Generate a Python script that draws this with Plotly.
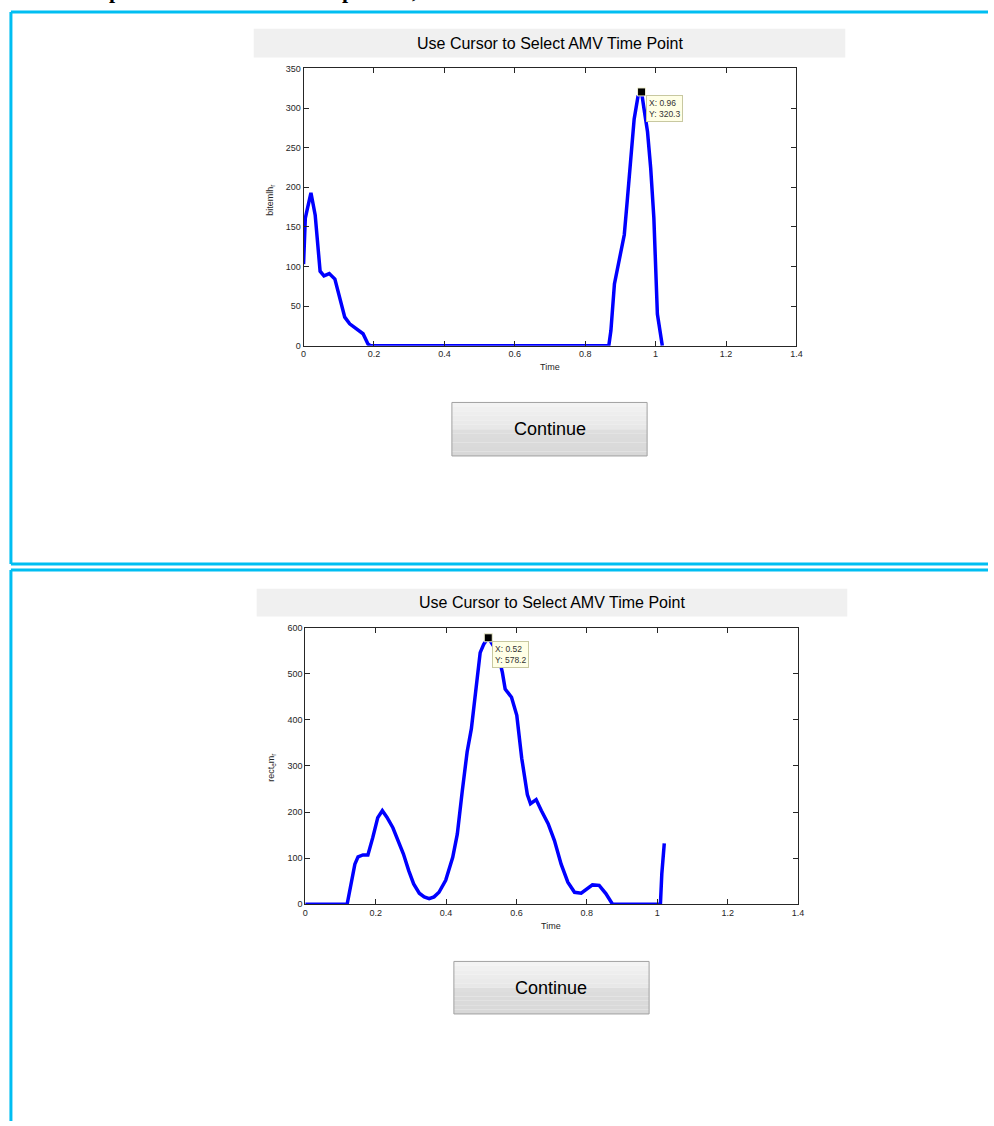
import plotly.graph_objects as go

W, H = 994, 1126

# ---------------- data ----------------
time_top = [0, 0.005, 0.01, 0.021, 0.033, 0.047, 0.058, 0.073, 0.089, 0.103, 0.117, 0.131,
            0.150, 0.169, 0.183, 0.19, 0.867, 0.873, 0.883, 0.897, 0.911, 0.920, 0.930,
            0.939, 0.950, 0.96, 0.967, 0.977, 0.986, 0.995, 1.005, 1.019]
bitemlh_r = [103, 161, 171, 193, 165, 94, 88, 91, 84, 59, 36, 27.5,
             21, 15, 2, 0, 0, 19, 78, 107, 140, 186, 236,
             286, 315, 320.3, 299, 270, 224, 161, 40, 0]

time_bot = [0, 0.119, 0.141, 0.150, 0.164, 0.178, 0.192, 0.206, 0.219, 0.232,
            0.249, 0.263, 0.279, 0.294, 0.308, 0.324, 0.338, 0.352, 0.366, 0.380,
            0.399, 0.419, 0.432, 0.446, 0.460, 0.472, 0.485, 0.497, 0.507, 0.52,
            0.535, 0.549, 0.560, 0.568, 0.586, 0.601, 0.615, 0.631, 0.640, 0.656,
            0.671, 0.690, 0.708, 0.727, 0.746, 0.765, 0.784, 0.800, 0.816, 0.835,
            0.854, 0.873, 1.009, 1.013, 1.020]
rectem_r = [0, 0, 87, 103, 107, 107, 145, 188, 203, 189,
            166, 138, 109, 73, 44, 24, 16, 12, 16, 26,
            52, 102, 152, 245, 331, 381, 467, 546, 564, 578.2,
            560, 539, 503, 467, 449, 410, 317, 238, 218, 227,
            203, 175, 138, 87, 48, 26, 24, 34, 42, 41,
            23, 0, 0, 66, 132]

tip_top = (0.96, 320.3)
tip_bot = (0.52, 578.2)

panel_title = "Use Cursor to Select AMV Time Point"
button_text = "Continue"
x_title = "Time"
y_title_top = "bitemlh<sub>r</sub>"
y_title_bot = "rect<sub>e</sub>m<sub>r</sub>"
x_ticks = [0, 0.2, 0.4, 0.6, 0.8, 1, 1.2, 1.4]


def px(x):
    return x / W


def py(y):
    return 1 - y / H


FONT = "Liberation Sans, Arial, Helvetica, sans-serif"
CYAN = "#00BEF2"
BLUE = "#0000FF"

fig = go.Figure()

fig.add_trace(go.Scatter(x=time_top, y=bitemlh_r, mode="lines",
                         line=dict(color=BLUE, width=3.5), xaxis="x", yaxis="y",
                         showlegend=False, hoverinfo="skip"))
fig.add_trace(go.Scatter(x=[tip_top[0]], y=[tip_top[1]], mode="markers",
                         marker=dict(symbol="square", size=8, color="black",
                                     line=dict(color="#F0F0D0", width=1)),
                         xaxis="x", yaxis="y", showlegend=False, hoverinfo="skip"))
fig.add_trace(go.Scatter(x=time_bot, y=rectem_r, mode="lines",
                         line=dict(color=BLUE, width=3.5), xaxis="x2", yaxis="y2",
                         showlegend=False, hoverinfo="skip"))
fig.add_trace(go.Scatter(x=[tip_bot[0]], y=[tip_bot[1]], mode="markers",
                         marker=dict(symbol="square", size=8, color="black",
                                     line=dict(color="#F0F0D0", width=1)),
                         xaxis="x2", yaxis="y2", showlegend=False, hoverinfo="skip"))

axis_common = dict(showgrid=False, zeroline=False, showline=True, linecolor="#262626",
                   linewidth=1, mirror="ticks", ticks="inside", ticklen=5,
                   tickcolor="#262626", tickfont=dict(family=FONT, size=9, color="#262626"))

fig.update_layout(
    width=W, height=H, margin=dict(l=0, r=0, t=0, b=0),
    paper_bgcolor="white", plot_bgcolor="white",
    xaxis=dict(domain=[px(303.3), px(800.7)], range=[0, 1.4], tickvals=x_ticks,
               anchor="y", **axis_common),
    yaxis=dict(domain=[py(343.7), py(64)], range=[0, 350], dtick=50,
               anchor="x", **axis_common),
    xaxis2=dict(domain=[px(305), px(802.3)], range=[0, 1.4], tickvals=x_ticks,
                anchor="y2", **axis_common),
    yaxis2=dict(domain=[py(907.3), py(628.3)], range=[0, 600], dtick=100,
                anchor="x2", **axis_common),
)

shapes = []
# cyan panel borders
for (x0, y0, x1, y1) in [(8, 7, 994, 7), (8, 7, 8, 564), (8, 564, 994, 564),
                         (8, 570, 994, 570), (8, 570, 8, 1126)]:
    shapes.append(dict(type="line", xref="paper", yref="paper",
                       x0=px(x0), y0=py(y0), x1=px(x1), y1=py(y1),
                       line=dict(color=CYAN, width=3)))

annotations = []

# button gradient: light on top, a soft step to darker grey in the lower half
GRAD = ["#F3F3F3", "#F0F0F0", "#EEEEEE", "#ECECEC", "#EAEAEA", "#E8E8E8",
        "#DEDEDE", "#DCDCDC", "#DBDBDB", "#DADADA", "#D9D9D9", "#D8D8D8"]


def panel(title_box, button_box, ax_center_x, time_y, ylab_x, ylab_y, ytitle):
    bx0, by0, bx1, by1 = title_box
    shapes.append(dict(type="rect", xref="paper", yref="paper",
                       x0=px(bx0), y0=py(by1), x1=px(bx1), y1=py(by0),
                       fillcolor="#F0F0F0", line=dict(width=0), layer="below"))
    annotations.append(dict(xref="paper", yref="paper", x=px((bx0 + bx1) / 2),
                            y=py((by0 + by1) / 2), text=panel_title, showarrow=False,
                            xanchor="center", yanchor="middle",
                            font=dict(family=FONT, size=16, color="black")))
    cx0, cy0, cx1, cy1 = button_box
    mid = (cy0 + cy1) / 2
    n = len(GRAD)
    for i, col in enumerate(GRAD):
        f0, f1 = i / n, (i + 1) / n
        shapes.append(dict(type="rect", xref="paper", yref="paper",
                           x0=px(cx0), x1=px(cx1),
                           y0=py(cy0 + f1 * (cy1 - cy0)), y1=py(cy0 + f0 * (cy1 - cy0)),
                           fillcolor=col, line=dict(width=0)))
    shapes.append(dict(type="rect", xref="paper", yref="paper",
                       x0=px(cx0), y0=py(cy1), x1=px(cx1), y1=py(cy0),
                       fillcolor="rgba(0,0,0,0)", line=dict(color="#A0A0A0", width=1)))
    annotations.append(dict(xref="paper", yref="paper", x=px((cx0 + cx1) / 2),
                            y=py(mid), text=button_text, showarrow=False,
                            xanchor="center", yanchor="middle",
                            font=dict(family=FONT, size=18, color="black")))
    annotations.append(dict(xref="paper", yref="paper", x=px(ax_center_x), y=py(time_y),
                            text=x_title, showarrow=False, xanchor="center",
                            yanchor="middle",
                            font=dict(family=FONT, size=9, color="#262626")))
    annotations.append(dict(xref="paper", yref="paper", x=px(ylab_x), y=py(ylab_y),
                            text=ytitle, showarrow=False, textangle=-90,
                            xanchor="center", yanchor="middle",
                            font=dict(family=FONT, size=9, color="#262626")))


panel((253, 24, 850, 53), (453, 401, 650, 455), 552, 365, 270, 197, y_title_top)
panel((256, 589, 852, 617), (455, 965, 652, 1018), 553, 929, 271, 770, y_title_bot)

# data tips
for (xa, ya, tip) in [("x", "y", tip_top), ("x2", "y2", tip_bot)]:
    annotations.append(dict(xref=xa, yref=ya, x=tip[0], y=tip[1],
                            text=f"X: {tip[0]:.2f}<br>Y: {tip[1]:.1f}", showarrow=False,
                            xanchor="left", yanchor="top", xshift=4, yshift=-3,
                            align="left", bgcolor="#FFFFE6", bordercolor="#C8C8A0",
                            borderwidth=1, borderpad=2,
                            font=dict(family=FONT, size=8.5, color="#333333")))

# cut-off heading glyphs at the very top
for (gx, g) in [(113, "p"), (348, "p"), (416, ",")]:
    annotations.append(dict(xref="paper", yref="paper", x=px(gx), y=py(-15),
                            text=f"<b>{g}</b>", showarrow=False, xanchor="center",
                            yanchor="middle",
                            font=dict(family="Liberation Serif, Times New Roman, serif",
                                      size=22, color="black")))

fig.update_layout(shapes=shapes, annotations=annotations)
fig.write_html("out.html", config={"displayModeBar": False},
               post_script="document.body.style.margin='0';"
                           "document.body.style.padding='0';"
                           "document.documentElement.style.overflow='hidden';")
